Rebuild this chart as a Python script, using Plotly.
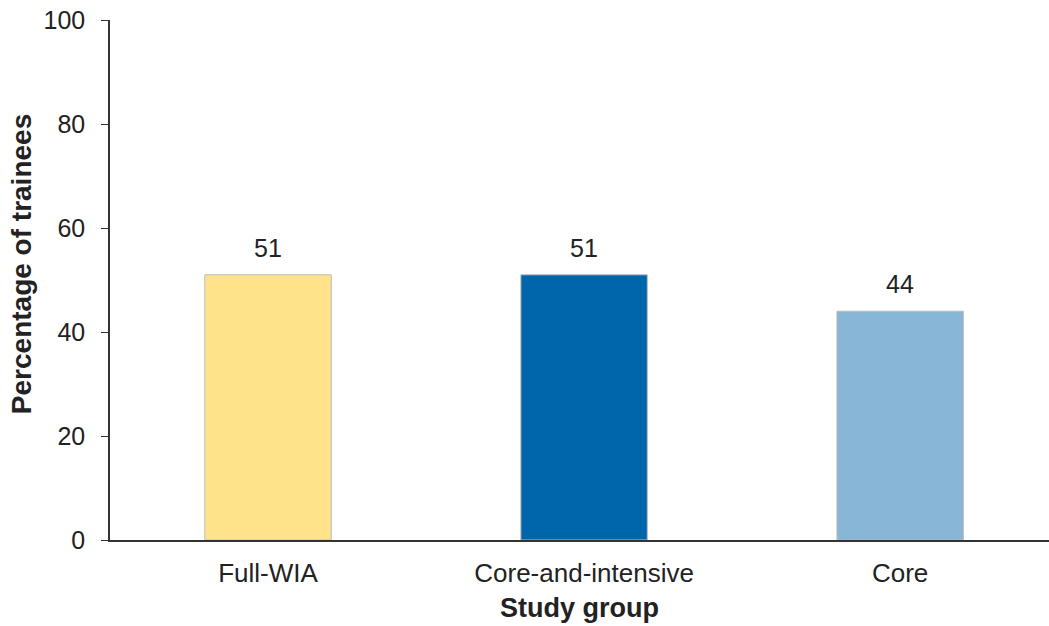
import plotly.graph_objects as go

groups = ["Full-WIA", "Core-and-intensive", "Core"]
percent = [51, 51, 44]
bar_colors = ["#FFE38B", "#0066AB", "#87B6D7"]

FONT = "Liberation Sans, Arial, sans-serif"

fig = go.Figure(go.Bar(
    x=groups,
    y=percent,
    width=0.4,
    marker=dict(color=bar_colors, line=dict(color="#BBBBBB", width=1)),
    hoverinfo="skip",
))

for g, v in zip(groups, percent):
    fig.add_annotation(
        x=g, y=v, text=str(v), showarrow=False,
        yanchor="bottom", yshift=11,
        font=dict(family=FONT, size=25, color="#222222"),
    )

# y title as an annotation so it can sit exactly where the reference has it
fig.add_annotation(
    text="<b>Percentage of trainees</b>",
    xref="paper", yref="paper", x=-0.094, y=0.53,
    xanchor="center", yanchor="middle", textangle=-90,
    showarrow=False,
    font=dict(family=FONT, size=28, color="#222222"),
)

fig.update_layout(
    width=1049,
    height=626,
    margin=dict(l=110, r=0, t=20, b=86),
    plot_bgcolor="white",
    paper_bgcolor="white",
    showlegend=False,
    font=dict(family=FONT, size=25, color="#222222"),
    xaxis=dict(
        range=[-0.5, 2.471],
        automargin=False,
        showline=True, linecolor="#333333", linewidth=1.5,
        ticks="", showgrid=False,
        tickfont=dict(size=26),
        ticklabelstandoff=9,
        title=dict(text="<b>Study group</b>", font=dict(size=27), standoff=11),
    ),
    yaxis=dict(
        range=[0, 100],
        automargin=False,
        tickvals=[0, 20, 40, 60, 80, 100],
        showline=True, linecolor="#333333", linewidth=1.5,
        ticks="outside", ticklen=7, tickcolor="#333333",
        ticklabelstandoff=11,
        ticklabeloverflow="allow",
        showgrid=False, zeroline=False,
        tickfont=dict(size=25),
    ),
)

# drop the default body margin so the figure sits at the page corner
fig.write_html(
    "out.html",
    config={"displayModeBar": False},
    post_script="document.body.style.margin='0';",
)
